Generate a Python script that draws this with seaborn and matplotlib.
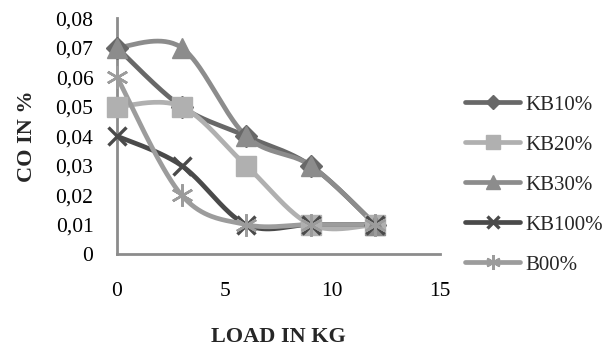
import numpy as np
import pandas as pd
import matplotlib
matplotlib.use("Agg")
import matplotlib.pyplot as plt
from matplotlib.lines import Line2D
from matplotlib.ticker import FuncFormatter
import seaborn as sns

load = [0, 3, 6, 9, 12]
series_names = ["KB10%", "KB20%", "KB30%", "KB100%", "B00%"]
kb10 = [0.07, 0.05, 0.04, 0.03, 0.01]
kb20 = [0.05, 0.05, 0.03, 0.01, 0.01]
kb30 = [0.07, 0.07, 0.04, 0.03, 0.01]
kb100 = [0.04, 0.03, 0.01, 0.01, 0.01]
b00 = [0.06, 0.02, 0.01, 0.01, 0.01]
y_ticks = [0, 0.01, 0.02, 0.03, 0.04, 0.05, 0.06, 0.07, 0.08]
x_ticks = [0, 5, 10, 15]

values = [kb10, kb20, kb30, kb100, b00]
colors = ["#686868", "#b0b0b0", "#8c8c8c", "#4a4a4a", "#9c9c9c"]
markers = ["D", "s", "^", "x", (6, 2, 0)]
msizes = [11, 15, 15, 13, 16]
medge = [1, 1, 1, 2.4, 1.8]


def smooth(xs, ys, n=40):
    """Catmull-Rom style cubic Bezier through the points."""
    p = np.column_stack([xs, ys]).astype(float)
    ext = np.vstack([p[0], p, p[-1]])
    out = []
    t = np.linspace(0, 1, n)[:, None]
    for i in range(len(p) - 1):
        p0, p1, p2, p3 = ext[i], ext[i + 1], ext[i + 2], ext[i + 3]
        c1 = p1 + (p2 - p0) / 6
        c2 = p2 - (p3 - p1) / 6
        seg = ((1 - t) ** 3) * p1 + 3 * ((1 - t) ** 2) * t * c1 + 3 * (1 - t) * t ** 2 * c2 + t ** 3 * p2
        out.append(seg if i == 0 else seg[1:])
    return np.vstack(out)


sns.set_theme(style="white")
plt.rcParams["font.family"] = ["Liberation Serif", "DejaVu Serif"]

fig = plt.figure(figsize=(6.16, 3.49), dpi=100)
ax = fig.add_axes([0.190, 0.272, 0.524, 0.676])

for name, vals, col, mk, ms, me in zip(series_names, values, colors, markers, msizes, medge):
    curve = smooth(load, vals)
    df = pd.DataFrame({"x": curve[:, 0], "y": curve[:, 1]})
    sns.lineplot(data=df, x="x", y="y", ax=ax, color=col, lw=3.4, sort=False,
                 estimator=None, legend=False)
    pts = pd.DataFrame({"x": load, "y": vals})
    ax.plot(pts["x"], pts["y"], ls="none", marker=mk, ms=ms, color=col,
            markeredgecolor=col, markeredgewidth=me, zorder=3, clip_on=False)

ax.set_xlim(0, 15)
ax.set_ylim(0, 0.08)
ax.set_xticks(x_ticks)
ax.set_yticks(y_ticks)
ax.yaxis.set_major_formatter(FuncFormatter(lambda v, _: "0" if v == 0 else f"{v:.2f}".replace(".", ",")))
ax.tick_params(axis="both", length=0, labelsize=15.5, colors="black")
ax.tick_params(axis="x", pad=20)
ax.tick_params(axis="y", pad=17)
for s in ["top", "right"]:
    ax.spines[s].set_visible(False)
for s in ["left", "bottom"]:
    ax.spines[s].set_color("#8c8c8c")
    ax.spines[s].set_linewidth(2)

ax.set_xlabel("LOAD IN KG", fontsize=16, fontweight="bold", labelpad=19)
ax.set_ylabel("CO IN %", fontsize=16, fontweight="bold", labelpad=13)

handles = [Line2D([0], [0], color=c, lw=3.4, marker=m, ms=s * 0.65, markeredgewidth=e,
                  markeredgecolor=c)
           for c, m, s, e in zip(colors, markers, msizes, medge)]
fig.legend(handles, series_names, loc="center left", bbox_to_anchor=(0.755, 0.47),
           frameon=False, fontsize=15, handlelength=2.65, labelspacing=0.98,
           handletextpad=0.25, borderaxespad=0, borderpad=0)

fig.savefig("out.png", dpi=100)
